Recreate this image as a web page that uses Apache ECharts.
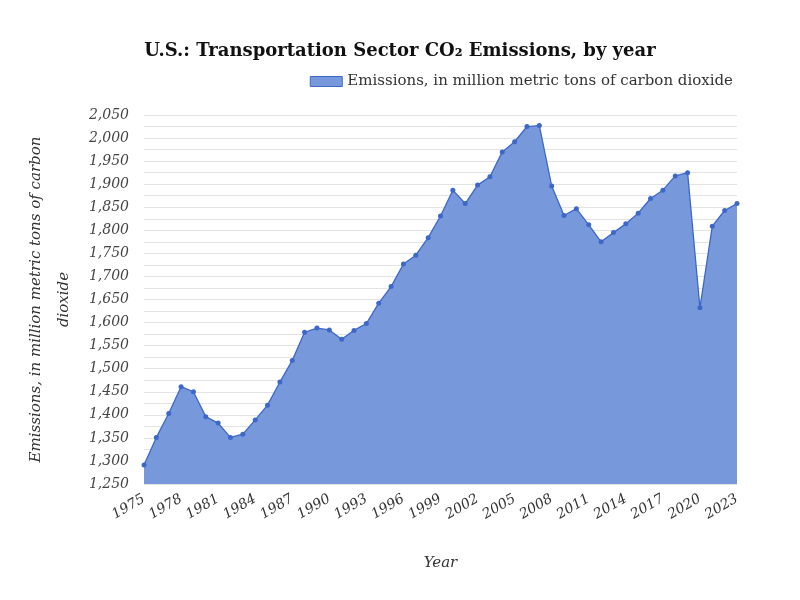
<!DOCTYPE html>
<html>
<head>
<meta charset="utf-8">
<script src="https://cdn.jsdelivr.net/npm/echarts@6/dist/echarts.min.js"></script>
<style>html,body{margin:0;padding:0;background:#fff}#c{width:800px;height:600px}</style>
</head>
<body>
<div id="c"></div>
<script>
const years = ["1975","1976","1977","1978","1979","1980","1981","1982","1983","1984","1985","1986","1987","1988","1989","1990","1991","1992","1993","1994","1995","1996","1997","1998","1999","2000","2001","2002","2003","2004","2005","2006","2007","2008","2009","2010","2011","2012","2013","2014","2015","2016","2017","2018","2019","2020","2021","2022","2023"];
const emissions = [1291,1351,1403,1461,1450,1396,1382,1351,1358,1389,1421,1471,1518,1579,1588,1584,1564,1583,1598,1642,1678,1727,1746,1784,1831,1887,1858,1898,1916,1970,1992,2025,2027,1896,1832,1847,1812,1775,1795,1814,1837,1869,1887,1918,1925,1632,1809,1843,1858];
const seriesName = "Emissions, in million metric tons of carbon dioxide";
const titleText = "U.S.: Transportation Sector CO\u2082 Emissions, by year";
const yAxisName = "Emissions, in million metric tons of carbon\ndioxide";
const xAxisName = "Year";

const FONT = "'DejaVu Serif', 'Liberation Serif', serif";
const chart = echarts.init(document.getElementById('c'));
chart.setOption({
  backgroundColor: '#fff',
  animation: false,
  title: {
    text: titleText, left: 'center', top: 37,
    textStyle: {fontFamily: FONT, fontWeight: 'bold', fontSize: 18, color: '#111'}
  },
  legend: {
    right: 62, top: 69, itemWidth: 32, itemHeight: 10, itemGap: 6,
    icon: 'rect',
    textStyle: {fontFamily: FONT, fontSize: 15, color: '#333'},
    data: [{name: seriesName, itemStyle: {color: '#7799dc', borderColor: '#3d67c9', borderWidth: 1}}]
  },
  grid: {left: 144, right: 63, top: 115, bottom: 116, containLabel: false},
  xAxis: {
    type: 'category', data: years, boundaryGap: false,
    name: xAxisName, nameLocation: 'middle', nameGap: 72,
    nameTextStyle: {fontFamily: FONT, fontStyle: 'oblique', fontSize: 15, color: '#333'},
    axisLine: {show: false}, axisTick: {show: false},
    axisLabel: {interval: 2, rotate: 30, margin: 14, fontFamily: FONT, fontStyle: 'oblique', fontSize: 14, color: '#333'}
  },
  yAxis: {
    type: 'value', min: 1250, max: 2050, interval: 50,
    name: yAxisName, nameLocation: 'middle', nameGap: 66, nameRotate: 90,
    nameTextStyle: {fontFamily: FONT, fontStyle: 'oblique', fontSize: 15, color: '#333', lineHeight: 28},
    axisLine: {show: false}, axisTick: {show: false},
    axisLabel: {margin: 15, fontFamily: FONT, fontStyle: 'oblique', fontSize: 14, color: '#444',
      formatter: v => v.toLocaleString('en-US')},
    splitLine: {lineStyle: {color: '#e3e3e3'}},
    minorTick: {show: false, splitNumber: 2},
    minorSplitLine: {show: true, lineStyle: {color: '#e3e3e3'}}
  },
  series: [{
    name: seriesName, type: 'line', data: emissions,
    symbol: 'circle', symbolSize: 5, showSymbol: true,
    lineStyle: {color: '#3d67c9', width: 1.3},
    itemStyle: {color: '#3d67c9'},
    areaStyle: {color: '#7799dc', opacity: 1}
  }]
});
</script>
</body>
</html>
